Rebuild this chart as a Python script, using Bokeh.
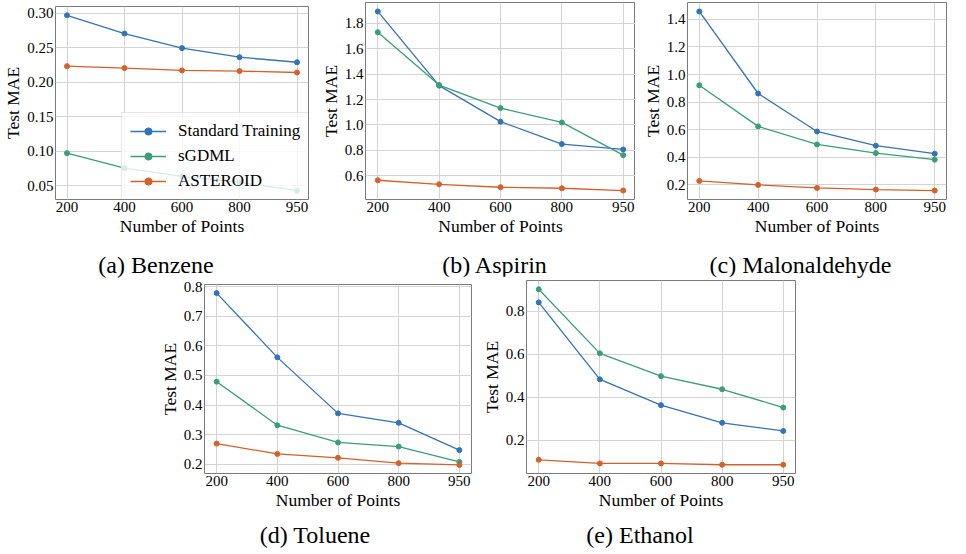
from bokeh.plotting import figure
from bokeh.layouts import column, row
from bokeh.models import Spacer, FixedTicker, Range1d, Div
from bokeh.embed import file_html
from bokeh.resources import INLINE

# ---------------- data ----------------
x_labels = ["200", "400", "600", "800", "950"]
series_names = ["Standard Training", "sGDML", "ASTEROID"]

benzene_standard = [0.297, 0.2705, 0.2495, 0.2363, 0.2290]
benzene_sgdml = [0.0975, 0.0759, 0.0640, 0.0553, 0.0431]
benzene_asteroid = [0.2234, 0.2206, 0.2172, 0.2162, 0.2142]

aspirin_standard = [1.892, 1.309, 1.026, 0.850, 0.808]
aspirin_sgdml = [1.729, 1.314, 1.133, 1.020, 0.763]
aspirin_asteroid = [0.566, 0.534, 0.511, 0.503, 0.485]

malon_standard = [1.458, 0.862, 0.586, 0.483, 0.425]
malon_sgdml = [0.922, 0.623, 0.492, 0.429, 0.381]
malon_asteroid = [0.227, 0.198, 0.176, 0.164, 0.157]

toluene_standard = [0.778, 0.561, 0.372, 0.340, 0.248]
toluene_sgdml = [0.479, 0.332, 0.274, 0.260, 0.208]
toluene_asteroid = [0.270, 0.235, 0.222, 0.204, 0.198]

ethanol_standard = [0.841, 0.483, 0.363, 0.281, 0.243]
ethanol_sgdml = [0.902, 0.604, 0.498, 0.437, 0.352]
ethanol_asteroid = [0.109, 0.092, 0.092, 0.086, 0.086]

benzene_yticks = [0.05, 0.10, 0.15, 0.20, 0.25, 0.30]
aspirin_yticks = [0.6, 0.8, 1.0, 1.2, 1.4, 1.6, 1.8]
malon_yticks = [0.2, 0.4, 0.6, 0.8, 1.0, 1.2, 1.4]
toluene_yticks = [0.2, 0.3, 0.4, 0.5, 0.6, 0.7, 0.8]
ethanol_yticks = [0.2, 0.4, 0.6, 0.8]

captions = ["(a) Benzene", "(b) Aspirin", "(c) Malonaldehyde",
            "(d) Toluene", "(e) Ethanol"]

colors = ["#3473b7", "#3a9e7a", "#d5612a"]
FONT = "Liberation Serif"


def panel(standard, sgdml, asteroid, yticks, fmt, width, height,
          left, right, top, legend=False):
    all_vals = standard + sgdml + asteroid
    lo, hi = min(all_vals), max(all_vals)
    pad = 0.05 * (hi - lo)
    xs = list(range(len(x_labels)))
    p = figure(width=width, height=height, output_backend="svg",
               toolbar_location=None,
               x_range=Range1d(-0.2, len(x_labels) - 0.8),
               y_range=Range1d(lo - pad, hi + pad),
               min_border_left=left, min_border_right=right,
               min_border_top=top, min_border_bottom=0)
    for name, vals, c in zip(series_names, [standard, sgdml, asteroid], colors):
        kw = dict(legend_label=name) if legend else {}
        p.line(xs, vals, line_color=c, line_width=1.3, **kw)
        p.scatter(xs, vals, size=5, fill_color=c, line_color=c, **kw)

    p.xaxis.ticker = FixedTicker(ticks=xs)
    p.xaxis.major_label_overrides = {i: s for i, s in enumerate(x_labels)}
    p.yaxis.ticker = FixedTicker(ticks=yticks)
    p.yaxis.major_label_overrides = {t: fmt % t for t in yticks}
    p.xaxis.axis_label = "Number of Points"
    p.yaxis.axis_label = "Test MAE"
    for ax in (p.xaxis[0], p.yaxis[0]):
        ax.axis_line_color = None
        ax.major_tick_line_color = None
        ax.minor_tick_line_color = None
        ax.major_tick_out = 0
        ax.major_tick_in = 0
        ax.major_label_text_font = FONT
        ax.major_label_text_font_size = "15px"
        ax.major_label_text_color = "#000000"
        ax.axis_label_text_font = FONT
        ax.axis_label_text_font_size = "17.5px"
        ax.axis_label_text_font_style = "normal"
        ax.axis_label_text_color = "#000000"
        ax.major_label_standoff = 2
        ax.axis_label_standoff = 1
    p.grid.grid_line_color = "#d4d4d4"
    p.grid.grid_line_width = 1
    p.outline_line_color = "#7a7a7a"
    p.outline_line_width = 1
    p.background_fill_color = "white"
    p.border_fill_color = "white"

    if legend:
        lg = p.legend[0]
        lg.location = (66, -1)
        lg.label_text_font = FONT
        lg.label_text_font_size = "17px"
        lg.label_text_color = "#000000"
        lg.border_line_color = "#d0d0d0"
        lg.border_line_width = 1
        lg.background_fill_alpha = 0.8
        lg.glyph_width = 36
        lg.glyph_height = 18
        lg.label_standoff = 12
        lg.spacing = 5
        lg.padding = 8
        lg.margin = 0
    return p


def caption_div(text, width, height, shift, pad_top):
    return Div(text=f'<span style="position:relative;left:{shift}px">{text}</span>',
               width=width, height=height, margin=0,
               styles={"font-family": FONT, "font-size": "24px",
                       "color": "#000000", "text-align": "center",
                       "padding-top": f"{pad_top}px", "line-height": "28px",
                       "box-sizing": "border-box"})


pa = panel(benzene_standard, benzene_sgdml, benzene_asteroid,
           benzene_yticks, "%.2f", 312, 238, 50, 4, 6, legend=True)
pb = panel(aspirin_standard, aspirin_sgdml, aspirin_asteroid,
           aspirin_yticks, "%.1f", 323, 238, 53, 0, 2)
pc = panel(malon_standard, malon_sgdml, malon_asteroid,
           malon_yticks, "%.1f", 315, 238, 52, 4, 2)
pd = panel(toluene_standard, toluene_sgdml, toluene_asteroid,
           toluene_yticks, "%.1f", 322, 236, 52, 3, 8)
pe = panel(ethanol_standard, ethanol_sgdml, ethanol_asteroid,
           ethanol_yticks, "%.1f", 324, 236, 52, 3, 4)

ca = caption_div(captions[0], 312, 38, 0, 13)
cb = caption_div(captions[1], 323, 38, 21, 13)
cc = caption_div(captions[2], 315, 38, 8, 13)
cd = caption_div(captions[3], 322, 26, 2, 9)
ce = caption_div(captions[4], 324, 26, 4, 9)

layout = column(
    row(column(pa, ca), column(pb, cb), column(pc, cc)),
    row(Spacer(width=152, height=262), column(pd, cd), column(pe, ce)),
)

open("out.html", "w").write(file_html(layout, INLINE))
